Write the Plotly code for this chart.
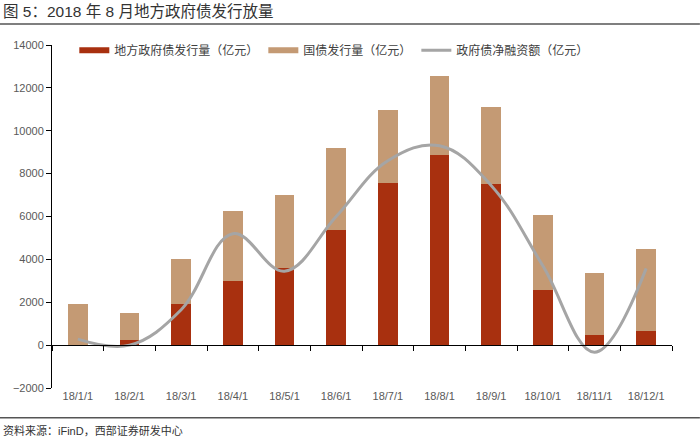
import plotly.graph_objects as go

months = ["18/1/1", "18/2/1", "18/3/1", "18/4/1", "18/5/1", "18/6/1",
          "18/7/1", "18/8/1", "18/9/1", "18/10/1", "18/11/1", "18/12/1"]
local_bonds = [0, 250, 1900, 3000, 3600, 5350, 7550, 8850, 7500, 2550, 450, 650]
treasury_bonds = [1900, 1230, 2100, 3250, 3400, 3850, 3400, 3700, 3600, 3500, 2900, 3850]
net_financing = [280, 0, 1650, 5200, 3450, 6000, 8600, 9300, 7450, 3700, -330, 3580]

names = ["地方政府债发行量（亿元）", "国债发行量（亿元）", "政府债净融资额（亿元）"]
C_LOCAL, C_TREAS, C_NET = "#A8300F", "#C49A74", "#A5A5A5"

LBL = "Noto Sans CJK SC"
MIX = "Liberation Sans, Noto Sans CJK SC, sans-serif"
NUM = "Liberation Sans, Arial, sans-serif"

fig = go.Figure()
fig.add_trace(go.Bar(x=months, y=local_bonds, name=names[0], showlegend=False,
                     marker=dict(color=C_LOCAL, line=dict(width=0))))
fig.add_trace(go.Bar(x=months, y=treasury_bonds, name=names[1], showlegend=False,
                     marker=dict(color=C_TREAS, line=dict(width=0))))
fig.add_trace(go.Scatter(x=months, y=net_financing, name=names[2], showlegend=False,
                         mode="lines", line=dict(color=C_NET, width=3, shape="spline", smoothing=1.1)))
# legend-only entries (wide rectangles like the original)
for nm, col, w in [(names[0], C_LOCAL, 6), (names[1], C_TREAS, 6), (names[2], C_NET, 3)]:
    fig.add_trace(go.Scatter(x=[None], y=[None], name=nm, mode="lines",
                             line=dict(color=col, width=w), showlegend=True))
# invisible trace to carry the zero-line axis with boundary ticks
fig.add_trace(go.Scatter(x=months, y=[None] * len(months), xaxis="x2", showlegend=False,
                         mode="lines", hoverinfo="skip"))

fig.update_layout(
    width=700, height=439,
    margin=dict(l=52, r=28, t=45, b=51),
    paper_bgcolor="white", plot_bgcolor="white",
    barmode="stack", bargap=0.62,
    font=dict(family=NUM, size=11, color="#595959"),
    showlegend=True,
    legend=dict(orientation="h", x=0.036, y=0.985, yanchor="middle", xanchor="left",
                font=dict(family=LBL, size=12, color="#404040"),
                bgcolor="rgba(0,0,0,0)", traceorder="normal", tracegroupgap=0),
    xaxis=dict(type="category", categoryorder="array", categoryarray=months,
               showline=False, ticks="", showgrid=False, zeroline=False,
               tickfont=dict(family=NUM, size=11, color="#595959")),
    xaxis2=dict(type="category", categoryorder="array", categoryarray=months,
                overlaying="x", anchor="free", position=0.125, matches="x",
                showline=True, linecolor="#000000", linewidth=1,
                ticks="outside", tickson="boundaries", ticklen=5, tickcolor="#000000",
                showticklabels=False, showgrid=False, zeroline=False),
    yaxis=dict(range=[-2000, 14000], dtick=2000, tick0=0, tickformat="d",
               showgrid=False, zeroline=False,
               showline=True, linecolor="#000000", linewidth=1,
               ticks="outside", ticklen=5, tickcolor="#000000",
               tickfont=dict(family=NUM, size=11, color="#595959")),
)

fig.add_annotation(text="图 5：2018 年 8 月地方政府债发行放量", xref="paper", yref="paper",
                   x=-0.082, y=1.099, xanchor="left", yanchor="middle", showarrow=False,
                   font=dict(family=MIX, size=15.5, color="#333333"))
fig.add_annotation(text="资料来源：iFinD，西部证券研发中心", xref="paper", yref="paper",
                   x=-0.082, y=-0.124, xanchor="left", yanchor="middle", showarrow=False,
                   font=dict(family=MIX, size=11, color="#333333"))
fig.add_shape(type="line", xref="paper", yref="paper", x0=-0.084, x1=1.045, y0=1.061, y1=1.061,
              line=dict(color="#555555", width=1.5))
fig.add_shape(type="line", xref="paper", yref="paper", x0=-0.084, x1=1.045, y0=-0.087, y1=-0.087,
              line=dict(color="#555555", width=1.5))

fig.write_html("out.html")
